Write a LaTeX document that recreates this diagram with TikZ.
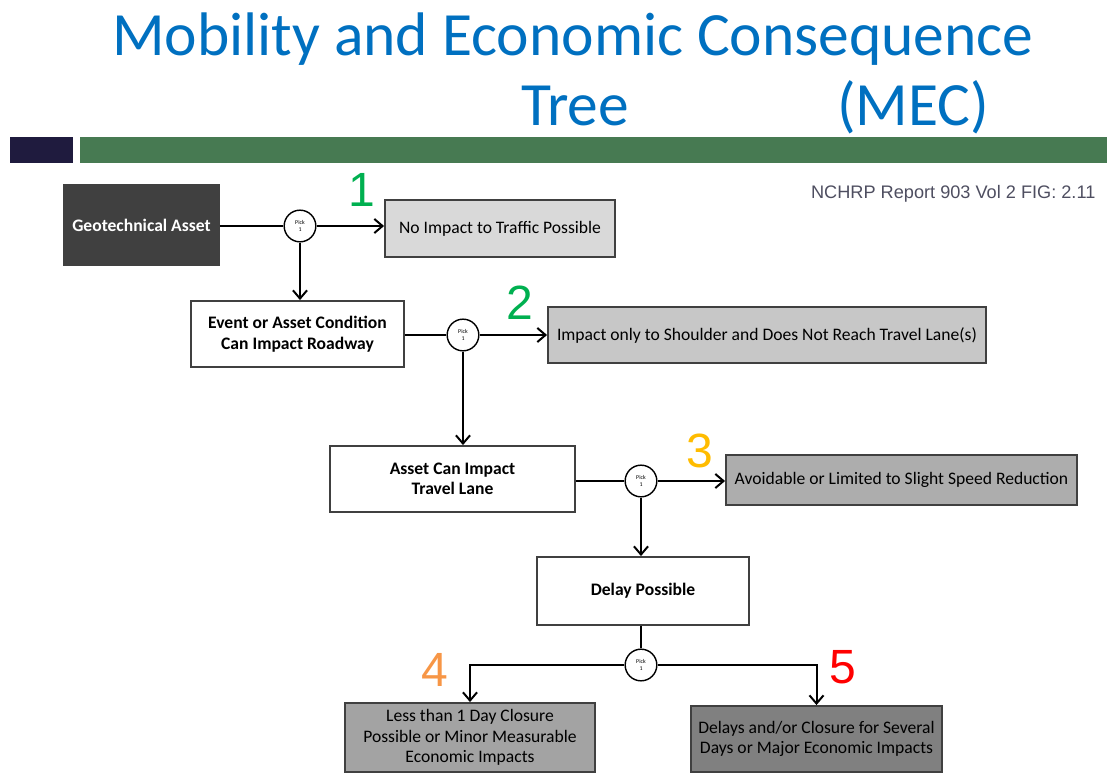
\documentclass[tikz,border=0pt]{standalone}
\usepackage{fontspec}
\setmainfont{Carlito}
\newfontfamily\arialfont{Liberation Sans}
\usetikzlibrary{arrows.meta}
\definecolor{titleblue}{RGB}{0,112,192}
\definecolor{bardark}{RGB}{31,27,62}
\definecolor{bargreen}{RGB}{71,122,82}
\definecolor{numgreen}{RGB}{0,176,80}
\definecolor{numgold}{RGB}{255,188,0}
\definecolor{numorange}{RGB}{247,150,70}
\definecolor{srcgray}{RGB}{78,78,96}
\begin{document}
\begin{tikzpicture}[x=0.03cm, y=-0.03cm,
	every node/.style={text=black, inner sep=2pt, font=\fontsize{15}{17.5}\selectfont},
	box/.style={draw=black!75, line width=1.6pt, align=center},
	boldbox/.style={box, fill=white, font=\bfseries\fontsize{15}{17.5}\selectfont},
	pick/.style={circle, draw=black, line width=1.2pt, fill=white, minimum size=0.95cm, inner sep=0pt, align=center, font=\fontsize{5}{6}\selectfont},
	num/.style={anchor=base, font=\arialfont\fontsize{41}{41}\selectfont},
	link/.style={line width=1.7pt},
	arr/.style={link, -{Straight Barb[length=7pt, width=12pt, line width=1.7pt]}}]
	\useasboundingbox (0,0) rectangle (1107,774);
	% title and bars
	\node[anchor=base, text=titleblue, font=\fontsize{52.5}{60}\selectfont] (title) at (573,55) {Mobility and Economic Consequence};
	\node[anchor=base, text=titleblue, font=\fontsize{52.5}{60}\selectfont] (tree) at (575,125) {Tree};
	\node[anchor=base, text=titleblue, font=\fontsize{52.5}{60}\selectfont] (mec) at (913,125) {(MEC)};
	\fill[bardark] (10,137) rectangle (73,163);
	\fill[bargreen] (80,137) rectangle (1107,163);
	\node[anchor=base east, text=srcgray, font=\arialfont\fontsize{15.5}{17}\selectfont] (src) at (1098,198) {NCHRP Report 903 Vol 2 FIG: 2.11};
	% tree
	\node[boldbox, fill=black!75, text=white, minimum width=4.65cm, minimum height=2.4cm] (root) at (141.5,225) {Geotechnical Asset};
	\node[pick] (p1) at (300,226) {Pick\\1};
	\draw[link] (root.east |- p1) -- (p1);
	\node[box, fill=black!15, minimum width=6.9cm, minimum height=1.71cm] (1) at (500,228.5) {No Impact to Traffic Possible};
	\draw[arr] (p1) -- (p1 -| 1.west);
	\node[num, text=numgreen] (n1) at (362,206) {1};
	\node[boldbox, minimum width=6.39cm, minimum height=1.98cm] (ev) at (297.5,334) {Event or Asset Condition\\Can Impact Roadway};
	\draw[arr] (p1) -- (p1 |- ev.north);
	\node[pick] (p2) at (463,335) {Pick\\1};
	\draw[link] (ev.east |- p2) -- (p2);
	\node[box, fill=black!22, minimum width=13.14cm, minimum height=1.68cm] (2) at (767,335) {Impact only to Shoulder and Does Not Reach Travel Lane(s)};
	\draw[arr] (p2) -- (2);
	\node[num, text=numgreen] (n2) at (520,319) {2};
	\node[boldbox, minimum width=7.35cm, minimum height=1.98cm] (tl) at (452.5,479) {Asset Can Impact\\Travel Lane};
	\draw[arr] (p2) -- (p2 |- tl.north);
	\node[pick] (p3) at (641,481) {Pick\\1};
	\draw[link] (tl.east |- p3) -- (p3);
	\node[box, fill=black!32, minimum width=10.53cm, minimum height=1.5cm] (3) at (901.5,480) {Avoidable or Limited to Slight Speed Reduction};
	\draw[arr] (p3) -- (p3 -| 3.west);
	\node[num, text=numgold] (n3) at (700,467) {3};
	\node[boldbox, minimum width=6.36cm, minimum height=2.04cm] (dl) at (643,591) {Delay Possible};
	\draw[arr] (p3) -- (p3 |- dl.north);
	\node[pick] (p4) at (641,665) {Pick\\1};
	\draw[link] (p4 |- dl.south) -- (p4);
	\node[box, fill=black!36, minimum width=7.5cm, minimum height=2.07cm] (4) at (470,737.5) {Less than 1 Day Closure\\Possible or Minor Measurable\\Economic Impacts};
	\draw[arr] (p4) -| (4);
	\node[num, text=numorange] (n4) at (435,686) {4};
	\node[box, fill=black!50, minimum width=7.53cm, minimum height=1.98cm] (5) at (816.5,739) {Delays and/or Closure for Several\\Days or Major Economic Impacts};
	\draw[arr] (p4) -| (5);
	\node[num, text=red] (n5) at (843,683) {5};
\end{tikzpicture}
\end{document}
